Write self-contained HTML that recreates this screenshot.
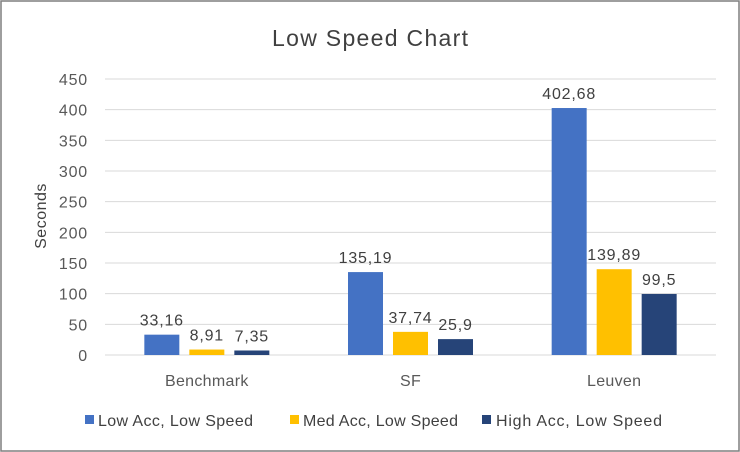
<!DOCTYPE html>
<html><head><meta charset="utf-8"><style>
body{margin:0;background:#fff}
svg{display:block;font-family:"Liberation Sans",sans-serif}
</style></head><body>
<svg id="c" width="740" height="452">
<rect x="1" y="1" width="738" height="450" fill="#fff" stroke="#7f7f7f" stroke-width="1.5"/>
<text x="272" y="46" textLength="196" font-size="23" fill="#404040">Low Speed Chart</text>
<text transform="translate(46,216) rotate(-90)" text-anchor="middle" font-size="16" letter-spacing="0.5" fill="#404040">Seconds</text>
<g id="grid"></g><g id="bars"></g>
<g>
<g><rect x="85" y="415" width="9" height="9" fill="#4472c4"/><text x="98" y="426" textLength="155" font-size="16" fill="#404040">Low Acc, Low Speed</text></g>
<g><rect x="290" y="415" width="9" height="9" fill="#ffc000"/><text x="303" y="426" textLength="155" font-size="16" fill="#404040">Med Acc, Low Speed</text></g>
<g><rect x="482" y="415" width="9" height="9" fill="#264478"/><text x="496" y="426" textLength="166" font-size="16" fill="#404040">High Acc, Low Speed</text></g>
</g>
</svg>
<script>
const categories=["Benchmark","SF","Leuven"];
const lowAcc=[33.16,135.19,402.68];
const medAcc=[8.91,37.74,139.89];
const highAcc=[7.35,25.9,99.5];
const yTicks=[0,50,100,150,200,250,300,350,400,450];
const NS="http://www.w3.org/2000/svg";
const x0=105,x1=716,y0=355,yTop=79,yMax=450;
const y=v=>y0-(v/yMax)*(y0-yTop);
const band=(x1-x0)/categories.length;
const g=document.getElementById('grid'),b=document.getElementById('bars');
function mk(t,a,p){const e=document.createElementNS(NS,t);for(const k in a)e.setAttribute(k,a[k]);p.appendChild(e);return e;}
yTicks.forEach(v=>{
 const l=mk('line',{x1:x0,x2:x1,y1:y(v),y2:y(v),stroke:'#d9d9d9','stroke-width':1},g);
 
 
 const t=mk('text',{x:88,y:y(v)+6,'text-anchor':'end','font-size':16,'letter-spacing':0.8,fill:'#595959'},g);t.textContent=v;
 
 
});
const series=[[lowAcc,'#4472c4','low-acc'],[medAcc,'#ffc000','med-acc'],[highAcc,'#264478','high-acc']];
const bw=35,gap=10;
categories.forEach((c,i)=>{
 const cx=x0+band*(i+0.5);
 const t=mk('text',{x:cx,y:386,'text-anchor':'middle','font-size':16,'letter-spacing':0.3,fill:'#595959'},b);t.textContent=c;
 
 
 const start=cx-(3*bw+2*gap)/2;
 series.forEach((s,j)=>{
  const v=s[0][i],bx=start+j*(bw+gap);
  const r=mk('rect',{x:bx,y:y(v),width:bw,height:y0-y(v),fill:s[1]},b);
  
  
  const lt=mk('text',{x:bx+bw/2,y:y(v)-9,'text-anchor':'middle','font-size':16,'letter-spacing':0.8,fill:'#404040'},b);
  lt.textContent=String(v).replace('.',',');
  
  
 });
});
</script>
</body></html>
